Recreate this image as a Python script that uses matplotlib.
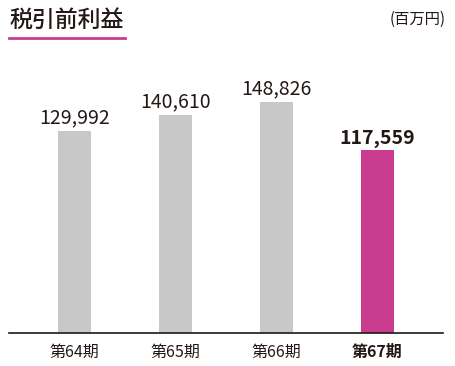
import matplotlib
matplotlib.use("Agg")
import matplotlib.pyplot as plt

plt.rcParams['font.family'] = ['Noto Sans CJK JP', 'DejaVu Sans']

# データ
periods = ["第64期", "第65期", "第66期", "第67期"]
values = [129992, 140610, 148826, 117559]
colors = ["#c8c8c8", "#c8c8c8", "#c8c8c8", "#c93c8f"]

fig = plt.figure(figsize=(4.56, 3.66), dpi=100)
ax = fig.add_axes([9/456, 1 - 333/366, 434/456, 273/366])

x = list(range(len(values)))
ax.bar(x, values, width=0.325, color=colors)
ax.set_xlim(-0.65, 3.65)
ax.set_ylim(0, 175800)

for i, v in enumerate(values):
    last = i == len(values) - 1
    ax.annotate(f"{v:,}", (i, v), xytext=(0, 2), textcoords="offset points",
                ha="center", va="bottom", fontsize=14,
                fontweight="bold" if last else "normal", color="#231815")

ax.set_xticks(x)
ax.set_xticklabels(periods, fontsize=11.5, color="#231815")
ax.get_xticklabels()[-1].set_fontweight("bold")
ax.tick_params(axis="x", length=0, pad=8)
ax.set_yticks([])
for s in ["top", "left", "right"]:
    ax.spines[s].set_visible(False)
ax.spines["bottom"].set_color("#231815")
ax.spines["bottom"].set_linewidth(1.2)

# タイトル
fig.text(9/456, 1 - 20/366, "税引前利益", fontsize=16.5, fontweight="medium",
         va="center", ha="left", color="#231815")
fig.add_artist(plt.Line2D([9/456, 125/456], [1 - 38/366, 1 - 38/366],
                          color="#c93c8f", linewidth=2, transform=fig.transFigure))
fig.text(446/456, 1 - 19/366, "(百万円)", fontsize=11, va="center", ha="right", color="#231815")

fig.savefig("out.png", dpi=100)
